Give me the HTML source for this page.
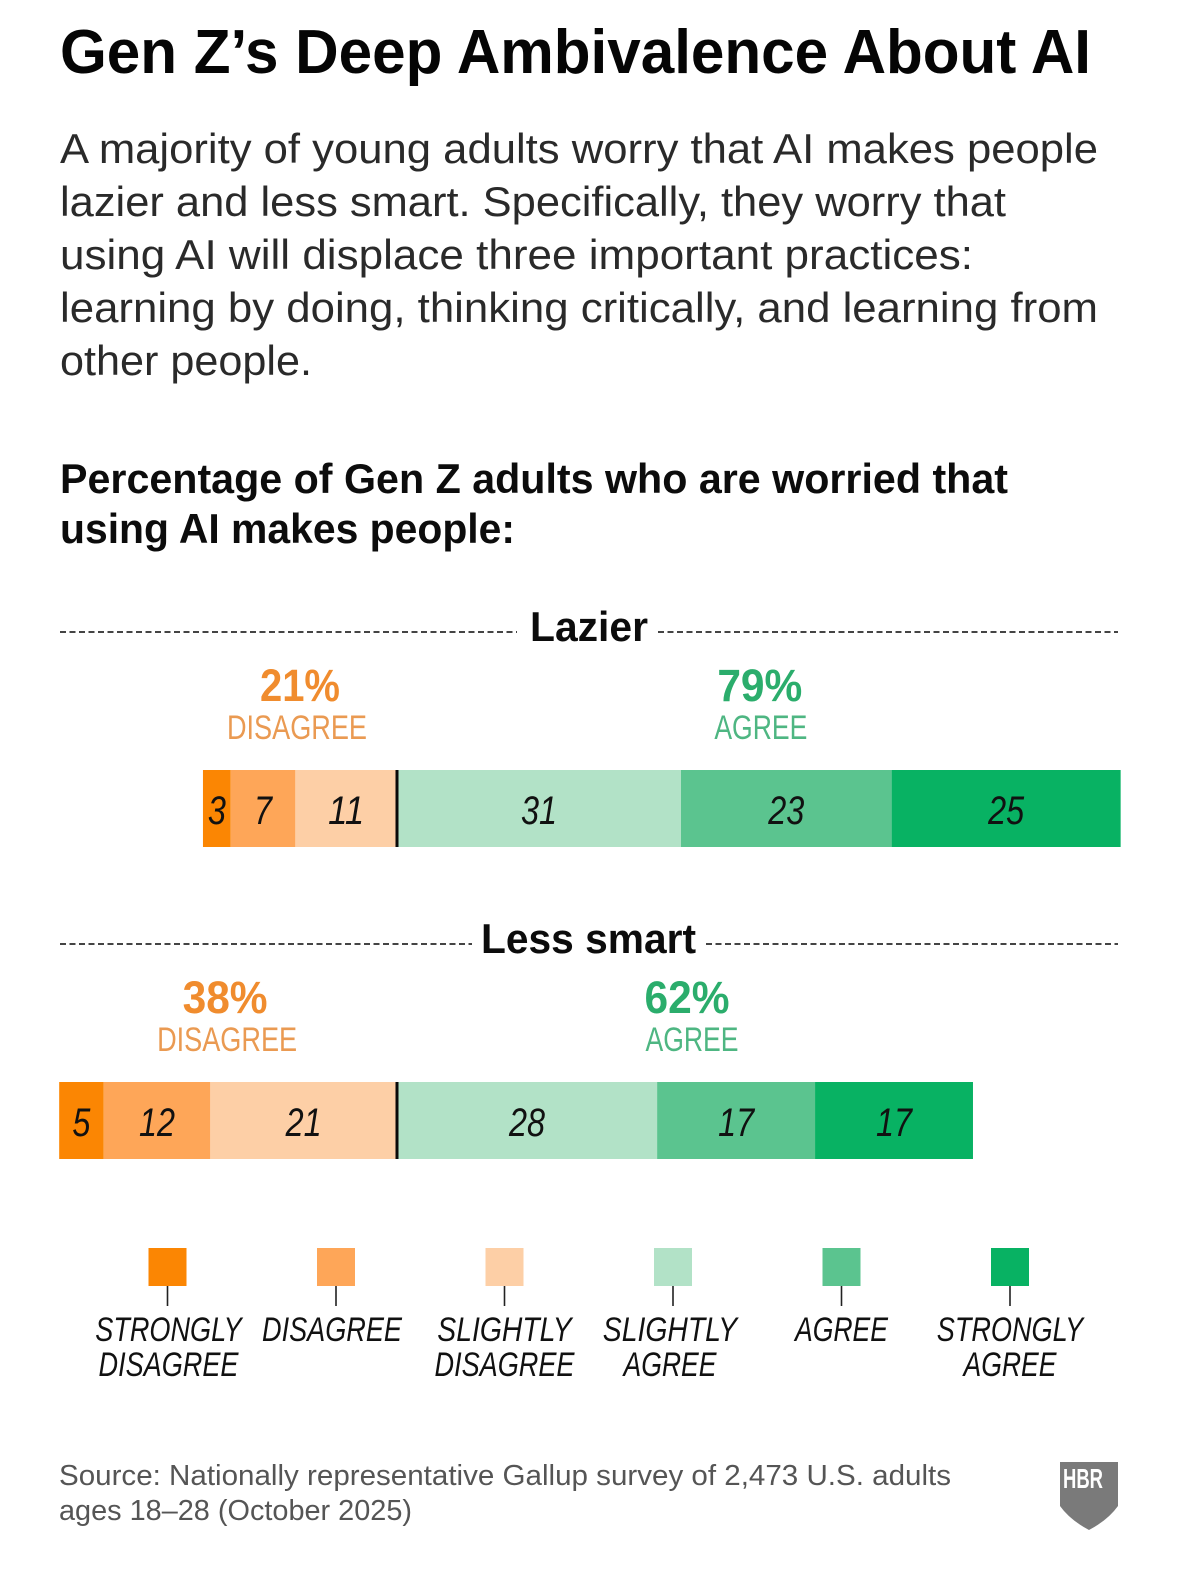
<!DOCTYPE html>
<html lang="en">
<head>
<meta charset="utf-8">
<title>Gen Z's Deep Ambivalence About AI</title>
<style>
  html, body { margin: 0; padding: 0; background: #fff; }
  svg { display: block; font-family: "Liberation Sans", sans-serif; }
  .body-line { font-size: 42px; fill: #2a2a2a; }
  .sub-line { font-size: 42px; font-weight: bold; fill: #0c0c0c; }
  .section { font-size: 42px; font-weight: bold; fill: #0c0c0c; }
  .source { font-size: 29px; fill: #555; }
</style>
</head>
<body>
<svg id="chart" xmlns="http://www.w3.org/2000/svg" width="1178" height="1575" viewBox="0 0 1178 1575">
  <rect width="1178" height="1575" fill="#fff"/>
  <text x="60" y="73" font-size="62" font-weight="bold" fill="#050505" textLength="1031" lengthAdjust="spacingAndGlyphs">Gen Z’s Deep Ambivalence About AI</text>

  <g>
    <text class="body-line" x="60" y="163" textLength="1038" lengthAdjust="spacingAndGlyphs">A majority of young adults worry that AI makes people</text>
    <text class="body-line" x="60" y="216" textLength="946" lengthAdjust="spacingAndGlyphs">lazier and less smart. Specifically, they worry that</text>
    <text class="body-line" x="60" y="269" textLength="913" lengthAdjust="spacingAndGlyphs">using AI will displace three important practices:</text>
    <text class="body-line" x="60" y="322" textLength="1038" lengthAdjust="spacingAndGlyphs">learning by doing, thinking critically, and learning from</text>
    <text class="body-line" x="60" y="375" textLength="252" lengthAdjust="spacingAndGlyphs">other people.</text>
  </g>

  <g>
    <text class="sub-line" x="60" y="493" textLength="948" lengthAdjust="spacingAndGlyphs">Percentage of Gen Z adults who are worried that</text>
    <text class="sub-line" x="60" y="543" textLength="455" lengthAdjust="spacingAndGlyphs">using AI makes people:</text>
  </g>

  <g>
    <line x1="60" x2="517" y1="632" y2="632" stroke="#444" stroke-width="2" stroke-dasharray="6 3.5"/>
    <text class="section" x="530" y="641" textLength="118" lengthAdjust="spacingAndGlyphs">Lazier</text>
    <line x1="658" x2="1118" y1="632" y2="632" stroke="#444" stroke-width="2" stroke-dasharray="6 3.5"/>
  </g>

  <g>
    <line x1="60" x2="472" y1="944" y2="944" stroke="#444" stroke-width="2" stroke-dasharray="6 3.5"/>
    <text class="section" x="481" y="953" textLength="215" lengthAdjust="spacingAndGlyphs">Less smart</text>
    <line x1="706" x2="1118" y1="944" y2="944" stroke="#444" stroke-width="2" stroke-dasharray="6 3.5"/>
  </g>

  <g id="bars"></g>
  <g id="legend"></g>

  <g>
    <text class="source" x="59" y="1485" textLength="892" lengthAdjust="spacingAndGlyphs">Source: Nationally representative Gallup survey of 2,473 U.S. adults</text>
    <text class="source" x="59" y="1520" textLength="353" lengthAdjust="spacingAndGlyphs">ages 18–28 (October 2025)</text>
  </g>

  <g>
    <path d="M1060 1462 H1118 V1506 Q1108 1520 1089 1530 Q1070 1520 1060 1506 Z" fill="#7a7a7a"/>
    <text x="1063" y="1488" font-size="28" font-weight="bold" fill="#fff" textLength="40" lengthAdjust="spacingAndGlyphs">HBR</text>
  </g>
</svg>

<script>
// ---- Chart data ----
var segmentKeys = ['strongly-disagree', 'disagree', 'slightly-disagree', 'slightly-agree', 'agree', 'strongly-agree'];
var segmentColors = ['#fb8603', '#fea658', '#fdcfa6', '#b2e2c7', '#5bc48f', '#08b263'];
var lazierDisagree = [3, 7, 11];
var lazierAgree = [31, 23, 25];
var lessSmartDisagree = [5, 12, 21];
var lessSmartAgree = [28, 17, 17];
var legendFirstLines = ['STRONGLY', 'DISAGREE', 'SLIGHTLY', 'SLIGHTLY', 'AGREE', 'STRONGLY'];
var legendSecondLines = ['DISAGREE', '', 'DISAGREE', 'AGREE', '', 'AGREE'];

// ---- Axis ----
var NS = 'http://www.w3.org/2000/svg';
var zeroX = 397;
var barHeight = 77;

function leftX(v, unit) { return zeroX - v * unit; }
function rightX(v, unit) { return zeroX + v * unit; }
function sum(list) { return list.reduce(function (a, b) { return a + b; }, 0); }

function make(tag, attrs, parent) {
  var el = document.createElementNS(NS, tag);
  for (var k in attrs) el.setAttribute(k, attrs[k]);
  parent.appendChild(el);
  return el;
}

function drawRow(key, disagree, agree, y, leftUnit, rightUnit, layout, root) {
  var group = make('g', {}, root);
  
  
  group.setAttribute('id', key + '-row');

  function segment(x0, x1, colorIndex, value) {
    var rect = make('rect', { x: x0, y: y, width: x1 - x0, height: barHeight, fill: segmentColors[colorIndex] }, group);
    
    
    var label = make('text', {
      x: (x0 + x1) / 2, y: y + 54, 'text-anchor': 'middle', 'font-size': 40, 'font-style': 'italic', fill: '#111',
      textLength: String(value).length * 18, lengthAdjust: 'spacingAndGlyphs'
    }, group);
    
    
    label.textContent = value;
  }

  // disagree side is stacked from the far left toward the centre line
  var running = sum(disagree);
  disagree.forEach(function (v, i) {
    segment(leftX(running, leftUnit), leftX(running - v, leftUnit), i, v);
    running -= v;
  });
  running = 0;
  agree.forEach(function (v, i) {
    segment(rightX(running, rightUnit), rightX(running + v, rightUnit), i + 3, v);
    running += v;
  });

  var centre = make('rect', { x: zeroX - 1.5, y: y, width: 3, height: barHeight, fill: '#0a0a0a' }, group);
  
  

  function summary(total, word, cx, pctShift, wordShift, pctColor, wordColor, wordWidth) {
    var pct = make('text', {
      x: cx + pctShift, y: y - 69, 'text-anchor': 'middle', 'font-size': 45, 'font-weight': 'bold', fill: pctColor,
      textLength: String(total).indexOf('1') >= 0 ? 80 : 85, lengthAdjust: 'spacingAndGlyphs'
    }, group);
    
    
    pct.textContent = total + '%';
    var txt = make('text', {
      x: cx + wordShift, y: y - 31, 'text-anchor': 'middle', 'font-size': 34, fill: wordColor,
      textLength: wordWidth, lengthAdjust: 'spacingAndGlyphs'
    }, group);
    
    
    txt.textContent = word;
  }

  summary(sum(disagree), 'DISAGREE', (leftX(sum(disagree), leftUnit) + zeroX) / 2, layout.leftPct, layout.leftWord, '#f08c2e', '#ea9a52', 140);
  summary(sum(agree), 'AGREE', (rightX(sum(agree), rightUnit) + zeroX) / 2, layout.rightPct, layout.rightWord, '#2bad6c', '#4eb682', 93);
}

var barsRoot = document.getElementById('bars');
drawRow('lazier', lazierDisagree, lazierAgree, 770, 9.24, 9.16, { leftPct: 0, leftWord: -3, rightPct: 1, rightWord: 2 }, barsRoot);
drawRow('less-smart', lessSmartDisagree, lessSmartAgree, 1082, 8.89, 9.29, { leftPct: -3, leftWord: -1, rightPct: 2, rightWord: 7 }, barsRoot);

// ---- Legend ----
var legendRoot = document.getElementById('legend');
segmentKeys.forEach(function (key, i) {
  var cx = 167.5 + i * 168.5;
  var entry = make('g', {}, legendRoot);
  
  
  entry.setAttribute('id', 'legend-' + key);
  var swatch = make('rect', { x: cx - 19, y: 1248, width: 38, height: 38, fill: segmentColors[i] }, entry);
  
  
  var tick = make('line', { x1: cx, x2: cx, y1: 1286, y2: 1306, stroke: '#222', 'stroke-width': 1.6 }, entry);
  
  
  var textShift = i === 1 ? -4 : (i === 3 ? -3 : (i === 0 ? 1 : 0));
  [legendFirstLines[i], legendSecondLines[i]].forEach(function (word, line) {
    if (!word) return;
    var charWidth = { AGREE: 18.6, DISAGREE: 17.5, SLIGHTLY: 16.8, STRONGLY: 18.3 }[word];
    var label = make('text', {
      x: cx + textShift, y: 1341 + line * 35, 'text-anchor': 'middle', 'font-size': 34, 'font-style': 'italic', fill: '#111',
      textLength: word.length * charWidth,
      lengthAdjust: 'spacingAndGlyphs'
    }, entry);
    
    
    label.textContent = word;
  });
});
</script>
</body>
</html>
